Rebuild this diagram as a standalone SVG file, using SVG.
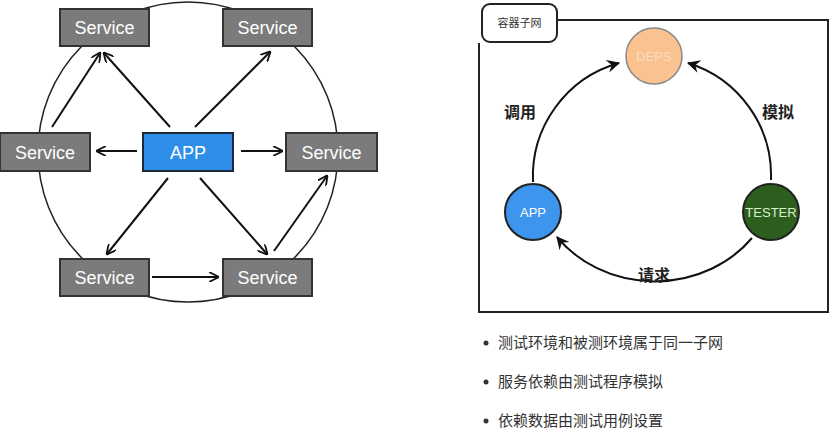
<svg xmlns="http://www.w3.org/2000/svg" width="830" height="432" viewBox="0 0 830 432">
<defs>
<marker id="ah" viewBox="0 0 10 10" refX="9" refY="5" markerWidth="10" markerHeight="10" markerUnits="userSpaceOnUse" orient="auto">
<path d="M0,0 L10,5 L0,10" fill="none" stroke="#111" stroke-width="1.8"/>
</marker>
<marker id="ah2" viewBox="0 0 12 12" refX="11" refY="6" markerWidth="13" markerHeight="13" markerUnits="userSpaceOnUse" orient="auto">
<path d="M0,0 L12,6 L0,12 L4,6 Z" fill="#111"/>
</marker>
</defs>
<style>
.svc rect{fill:#7b7b7b;stroke:#333;stroke-width:2}
.svc text,.app text{font-family:"Liberation Sans",Arial,sans-serif;font-size:18px;fill:#fff;text-anchor:middle}
.app rect{fill:#2f8fe8;stroke:#1a2a3a;stroke-width:2}
.conn line{stroke:#111;stroke-width:2;marker-end:url(#ah)}
.arc path{fill:none;stroke:#111;stroke-width:2;marker-end:url(#ah2)}
.lbl{font-family:"Noto Sans CJK SC",sans-serif;font-size:16px;font-weight:bold;fill:#222;text-anchor:middle}
.bul{font-family:"Noto Sans CJK SC",sans-serif;font-size:15px;fill:#333}
.nd text{font-family:"Liberation Sans",Arial,sans-serif;font-size:13px;text-anchor:middle}
</style>
<circle cx="188" cy="152" r="150" fill="none" stroke="#222" stroke-width="1.5"/>
<g class="conn">
<line x1="170" y1="127" x2="104" y2="53"/>
<line x1="52" y1="127" x2="100" y2="53"/>
<line x1="195" y1="127" x2="270" y2="52"/>
<line x1="137" y1="151" x2="97" y2="151"/>
<line x1="241" y1="151" x2="282" y2="151"/>
<line x1="168" y1="178" x2="107" y2="254"/>
<line x1="200" y1="178" x2="267" y2="254"/>
<line x1="274" y1="251" x2="327" y2="176"/>
<line x1="152" y1="277" x2="218" y2="277"/>
</g>
<g id="svc-tl" class="svc"><rect x="60" y="9" width="89" height="37"/><text x="104.5" y="34">Service</text></g>
<g id="svc-tr" class="svc"><rect x="223" y="9" width="89" height="37"/><text x="267.5" y="34">Service</text></g>
<g id="svc-ml" class="svc"><rect x="0" y="133" width="90" height="38"/><text x="45" y="159">Service</text></g>
<g id="app-l" class="app"><rect x="143" y="133" width="90" height="38"/><text x="188" y="159">APP</text></g>
<g id="svc-mr" class="svc"><rect x="286" y="133" width="91" height="38"/><text x="331.5" y="159">Service</text></g>
<g id="svc-bl" class="svc"><rect x="60" y="259" width="89" height="37"/><text x="104.5" y="284">Service</text></g>
<g id="svc-br" class="svc"><rect x="223" y="259" width="89" height="37"/><text x="267.5" y="284">Service</text></g>

<g id="frame">
<path d="M557,20 L828,20 L828,312 L479,312 L479,43" fill="none" stroke="#222" stroke-width="2"/>
<rect x="482" y="4" width="75" height="38" rx="8" fill="#fff" stroke="#222" stroke-width="2"/>
<text x="519.5" y="27" font-family="'Noto Sans CJK SC',sans-serif" font-size="11" fill="#333" text-anchor="middle">容器子网</text>
</g>
<g class="arc">
<path d="M533,182 A118,118 0 0 1 619,63"/>
<path d="M771,180 A118,118 0 0 0 688,63"/>
<path d="M752,238 A122,110 0 0 1 557,237"/>
</g>
<text class="lbl" x="520" y="118">调用</text>
<text class="lbl" x="778" y="118">模拟</text>
<text class="lbl" x="654" y="281">请求</text>
<g id="deps" class="nd"><circle cx="654" cy="56" r="28" fill="#f9c28f" stroke="#888" stroke-width="1.5"/><text x="654" y="61" fill="#f7dcc0">DEPS</text></g>
<g id="app-r" class="nd"><circle cx="533" cy="212" r="28" fill="#3d95ee" stroke="#222" stroke-width="2"/><text x="533" y="217" fill="#fff">APP</text></g>
<g id="tester" class="nd"><circle cx="771" cy="212" r="28" fill="#2d5e1e" stroke="#222" stroke-width="2"/><text x="771" y="217" fill="#d8f0c8" font-size="12">TESTER</text></g>

<g id="bullets">
<circle cx="486" cy="343" r="2.5" fill="#333"/><text class="bul" x="498" y="348">测试环境和被测环境属于同一子网</text>
<circle cx="486" cy="382" r="2.5" fill="#333"/><text class="bul" x="498" y="387">服务依赖由测试程序模拟</text>
<circle cx="486" cy="421" r="2.5" fill="#333"/><text class="bul" x="498" y="426">依赖数据由测试用例设置</text>
</g>
</svg>
